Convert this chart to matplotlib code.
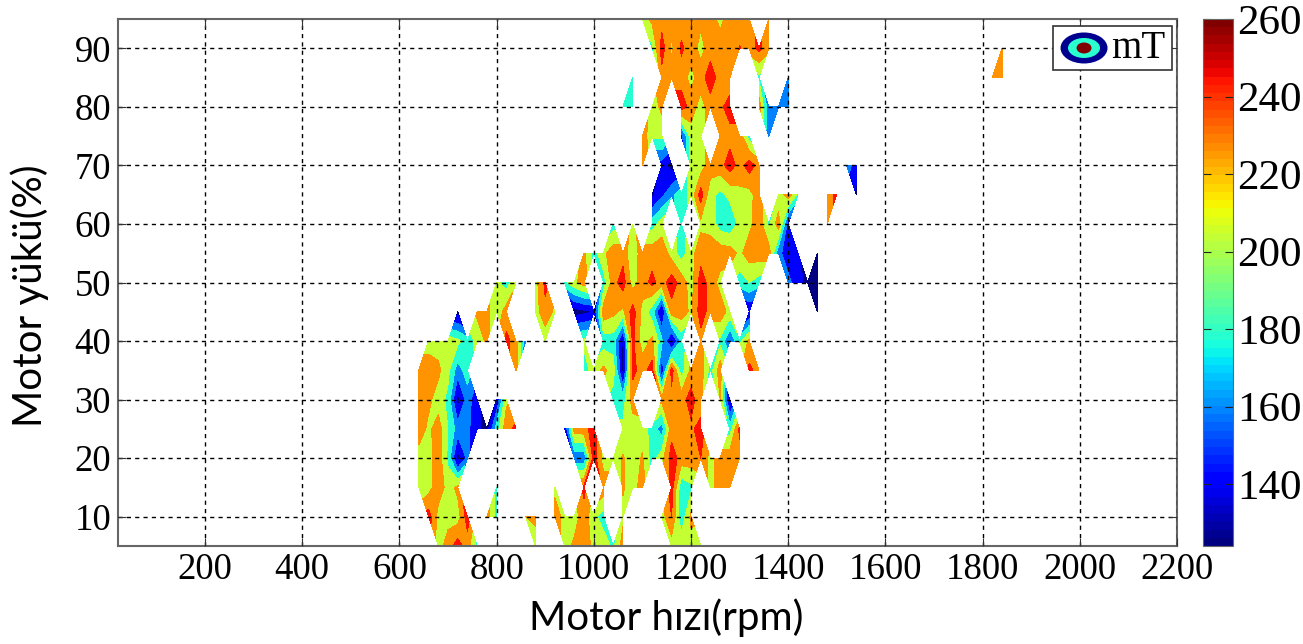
import numpy as np
import matplotlib
matplotlib.use("Agg")
import matplotlib.pyplot as plt
from matplotlib.cm import ScalarMappable
from matplotlib.colors import Normalize
from matplotlib.patches import Ellipse, Rectangle

# mT degerleri: her satir bir motor yuku (%), anahtarlar motor hizi (rpm)
mT_95 = {1100: 210, 1120: 225, 1140: 232, 1160: 232, 1180: 232, 1200: 232, 1220: 225, 1240: 232,
         1260: 212, 1280: 232, 1300: 232, 1320: 232, 1360: 225}
mT_90 = {1120: 195, 1140: 250, 1160: 215, 1180: 243, 1200: 232, 1220: 212, 1240: 232, 1260: 235,
         1280: 225, 1300: 241, 1320: 230, 1340: 245, 1360: 228, 1840: 232}
mT_85 = {1080: 190, 1140: 232, 1160: 232, 1180: 232, 1200: 212, 1220: 232, 1240: 250, 1260: 232,
         1280: 225, 1340: 195, 1400: 165, 1820: 232, 1840: 232}
mT_80 = {1060: 190, 1080: 195, 1120: 210, 1140: 225, 1180: 250, 1200: 232, 1220: 210, 1240: 232,
         1260: 235, 1280: 250, 1340: 232, 1360: 165, 1380: 165, 1400: 165}
mT_75 = {1100: 232, 1120: 205, 1140: 205, 1180: 150, 1200: 210, 1220: 210, 1260: 232, 1280: 232,
         1300: 232, 1320: 190, 1360: 165}
mT_70 = {1100: 240, 1140: 150, 1160: 130, 1200: 205, 1220: 208, 1240: 232, 1260: 232, 1280: 250,
         1300: 232, 1320: 250, 1340: 232, 1520: 170, 1540: 150}
mT_65 = {1120: 135, 1140: 155, 1160: 175, 1180: 190, 1200: 205, 1220: 250, 1240: 205, 1260: 195,
         1280: 205, 1300: 215, 1320: 212, 1340: 232, 1380: 205, 1400: 232, 1420: 195, 1480: 230,
         1500: 245, 1540: 135}
mT_60 = {1040: 190, 1080: 212, 1120: 190, 1140: 210, 1180: 190, 1220: 215, 1240: 212, 1260: 190,
         1280: 185, 1300: 205, 1320: 215, 1340: 232, 1360: 195, 1380: 232, 1400: 150, 1480: 230}
mT_55 = {980: 225, 1000: 190, 1020: 215, 1040: 232, 1060: 232, 1080: 205, 1100: 232, 1120: 232,
         1140: 232, 1160: 212, 1180: 190, 1200: 212, 1220: 232, 1240: 232, 1260: 232, 1280: 230,
         1300: 215, 1320: 230, 1340: 232, 1360: 232, 1380: 165, 1400: 150, 1420: 145, 1460: 128}
mT_50 = {800: 205, 820: 190, 840: 215, 880: 212, 900: 245, 940: 195, 960: 215, 980: 230, 1020: 190,
         1040: 232, 1060: 250, 1080: 210, 1100: 232, 1120: 245, 1140: 232, 1160: 250, 1180: 232,
         1200: 210, 1220: 250, 1240: 232, 1260: 212, 1300: 190, 1320: 200, 1340: 190, 1400: 165,
         1420: 150, 1440: 130, 1460: 125}
mT_45 = {720: 130, 760: 225, 780: 225, 800: 205, 820: 230, 880: 210, 900: 235, 920: 215, 960: 130,
         980: 135, 1000: 140, 1020: 232, 1040: 225, 1060: 215, 1080: 250, 1100: 212, 1120: 190,
         1140: 130, 1160: 232, 1180: 232, 1200: 215, 1220: 250, 1240: 232, 1260: 232, 1280: 212,
         1320: 140, 1460: 130}
mT_40 = {660: 210, 680: 210, 700: 212, 720: 205, 740: 190, 760: 205, 780: 225, 820: 245, 840: 232,
         860: 160, 900: 205, 980: 205, 1020: 190, 1040: 190, 1060: 135, 1080: 245, 1100: 210,
         1120: 225, 1140: 185, 1160: 130, 1180: 185, 1220: 232, 1260: 195, 1280: 160, 1300: 195,
         1320: 225}
mT_35 = {640: 232, 660: 232, 680: 225, 700: 205, 720: 170, 740: 190, 840: 230, 980: 190, 1000: 210,
         1020: 225, 1040: 210, 1060: 130, 1080: 245, 1100: 232, 1120: 248, 1140: 140, 1160: 250,
         1180: 190, 1200: 225, 1220: 232, 1240: 190, 1260: 232, 1320: 245, 1340: 232}
mT_30 = {640: 232, 660: 225, 680: 210, 700: 195, 720: 130, 740: 170, 760: 145, 800: 140, 820: 215,
         1040: 190, 1060: 190, 1080: 230, 1140: 225, 1160: 232, 1180: 230, 1200: 250, 1220: 225,
         1260: 220, 1280: 130}
mT_25 = {640: 232, 660: 215, 680: 230, 700: 200, 720: 170, 740: 165, 760: 145, 780: 130, 800: 190,
         820: 232, 840: 245, 940: 140, 960: 230, 980: 232, 1000: 250, 1060: 205, 1080: 208,
         1100: 212, 1120: 190, 1140: 170, 1160: 232, 1180: 232, 1200: 235, 1220: 250, 1280: 190,
         1300: 245}
mT_20 = {640: 210, 660: 212, 680: 232, 700: 195, 720: 130, 740: 165, 920: 235, 960: 165, 980: 165,
         1000: 250, 1020: 210, 1040: 210, 1060: 222, 1080: 210, 1100: 222, 1120: 190, 1140: 212,
         1160: 250, 1180: 232, 1200: 232, 1220: 240, 1240: 212, 1260: 232, 1280: 232, 1300: 232}
mT_15 = {640: 200, 660: 212, 680: 232, 700: 212, 720: 225, 800: 190, 920: 212, 980: 245, 1020: 232,
         1060: 222, 1080: 210, 1100: 230, 1160: 250, 1180: 185, 1200: 195, 1240: 212, 1260: 232,
         1280: 230}
mT_10 = {660: 250, 680: 212, 700: 212, 720: 210, 740: 250, 780: 232, 800: 190, 860: 220, 880: 225,
         920: 235, 940: 210, 960: 210, 980: 232, 1000: 205, 1020: 190, 1060: 215, 1140: 210,
         1160: 240, 1180: 185, 1200: 225}
mT_5 = {680: 210, 700: 230, 720: 250, 740: 230, 760: 190, 880: 210, 940: 210, 960: 225, 980: 235,
        1000: 212, 1020: 212, 1040: 195, 1060: 230, 1160: 210, 1180: 212, 1200: 212, 1220: 210}

mT_rows = [mT_5, mT_10, mT_15, mT_20, mT_25, mT_30, mT_35, mT_40, mT_45, mT_50,
           mT_55, mT_60, mT_65, mT_70, mT_75, mT_80, mT_85, mT_90, mT_95]
yuk = list(range(5, 100, 5))
hiz = list(range(640, 1860, 20))
seviyeler = [124, 140, 160, 180, 200, 220, 240, 260]
renk_degerleri = [124, 139, 158, 178, 204, 226, 245]  # bantlarin jet renk karsiligi
x_ticks = list(range(200, 2400, 200))
y_ticks = list(range(10, 100, 10))
cb_ticks = [140, 160, 180, 200, 220, 240, 260]

Z = np.array([[row.get(h, np.nan) for h in hiz] for row in mT_rows], dtype=float)
Z = np.ma.masked_invalid(Z)

jet = plt.get_cmap("jet")
norm = Normalize(124, 260)
renkler = [jet(norm(s)) for s in renk_degerleri]

W, H = 1303, 644
fig = plt.figure(figsize=(W / 100, H / 100), dpi=100)
ax = fig.add_axes([118 / W, 1 - 546 / H, 1059 / W, 527 / H])

ax.contourf(hiz, yuk, Z, levels=seviyeler, colors=renkler, corner_mask=True)

ax.set_xlim(21, 2200)
ax.set_ylim(5, 95)
ax.set_xticks(x_ticks)
ax.set_yticks(y_ticks)
ax.set_axisbelow(False)
ax.grid(True, color="black", linestyle=(0, (3, 3)), linewidth=1.0)
ax.tick_params(direction="in", length=6, color="#333333", top=True, right=True,
               labelsize=26.5, pad=5)
for lab in ax.get_xticklabels() + ax.get_yticklabels():
    lab.set_family("Liberation Serif")
for s in ax.spines.values():
    s.set_color("#666666")
    s.set_linewidth(1.5)

# legend kutusu
ax.add_patch(Rectangle((0.883, 0.903), 0.1125, 0.084, transform=ax.transAxes, facecolor="white",
                       edgecolor="#333333", linewidth=1.2, zorder=5))
for w, h, c in [(47, 31, "#00008f"), (32, 20, "#2affd0"), (15, 11, "#800000")]:
    ax.add_patch(Ellipse((0.9122, 0.9450), w / 1059, h / 527, transform=ax.transAxes,
                         facecolor=c, edgecolor="none", zorder=6))
ax.text(0.9378, 0.9440, "mT", transform=ax.transAxes, family="Liberation Serif", fontsize=28,
        va="center", ha="left", zorder=6)

# renk cubugu
cax = fig.add_axes([1203 / W, 1 - 546 / H, 30 / W, 527 / H])
cb = fig.colorbar(ScalarMappable(norm, plt.get_cmap("jet", 64)), cax=cax)
cb.set_ticks(cb_ticks)
cax.tick_params(direction="in", length=6, left=True, right=True, labelsize=31, pad=3,
                color="#222222")
for lab in cax.get_yticklabels():
    lab.set_family("Liberation Serif")
cb.outline.set_edgecolor("#666666")

fig.text(666 / W, 1 - 618 / H, "Motor hızı(rpm)", family="Lato", fontsize=29, ha="center", va="center")
fig.text(30 / W, 1 - 296 / H, "Motor yükü(%)", family="Lato", fontsize=29, rotation=90,
         ha="center", va="center")

fig.savefig("out.png", dpi=100)
